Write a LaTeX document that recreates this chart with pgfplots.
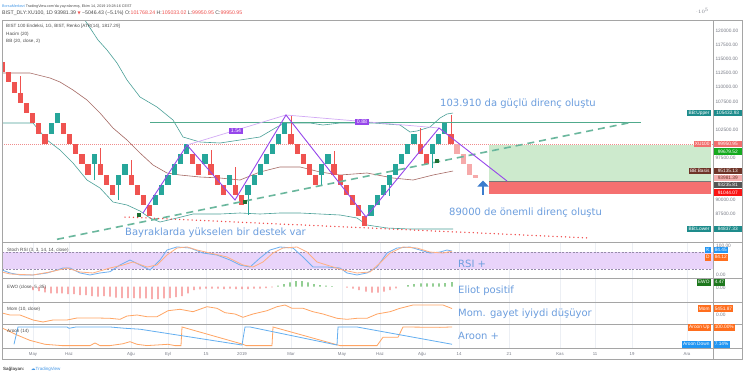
\documentclass[border=0pt]{standalone}
\usepackage{fontspec}
\setmainfont{Liberation Sans}
\newfontfamily\dejavu{DejaVu Sans}
\usepackage{pgfplots}
\usepackage{pgfplotstable}
\pgfplotsset{compat=1.18}
\usepgfplotslibrary{fillbetween}
\usetikzlibrary{arrows.meta}
\newcommand\fs[1]{\fontsize{#1bp}{#1bp}\selectfont}
\definecolor{tvred}{RGB}{239,83,80}
\definecolor{tvgreen}{RGB}{38,166,154}
\definecolor{tvpink}{RGB}{246,170,170}
\definecolor{bbline}{RGB}{75,160,152}
\definecolor{bbfill}{RGB}{222,241,240}
\definecolor{bbbasis}{RGB}{165,105,100}
\definecolor{gridc}{RGB}{236,239,244}
\definecolor{framec}{RGB}{165,165,165}
\definecolor{labgray}{RGB}{120,123,134}
\definecolor{txtgray}{RGB}{75,75,75}
\definecolor{annot}{RGB}{108,158,222}
\definecolor{zig}{RGB}{150,70,235}
\definecolor{ziglight}{RGB}{210,170,245}
\definecolor{resgreen}{RGB}{80,170,140}
\definecolor{dotred}{RGB}{240,70,70}
\definecolor{pricedot}{RGB}{240,140,140}
\definecolor{longgreen}{RGB}{205,234,205}
\definecolor{longred}{RGB}{245,112,112}
\definecolor{arrowblue}{RGB}{60,125,205}
\definecolor{stochfill}{RGB}{233,212,250}
\definecolor{stochdash}{RGB}{150,140,170}
\definecolor{kblue}{RGB}{110,175,240}
\definecolor{dorange}{RGB}{255,175,130}
\definecolor{ewored}{RGB}{245,130,130}
\definecolor{ewogreen}{RGB}{90,180,90}
\definecolor{momorange}{RGB}{255,165,100}
\definecolor{adnblue}{RGB}{100,175,240}
\definecolor{tagteal}{RGB}{30,140,140}
\definecolor{tagxu}{RGB}{242,110,110}
\definecolor{taggreen}{RGB}{20,170,30}
\definecolor{tagbrown}{RGB}{110,52,40}
\definecolor{tagpink}{RGB}{245,175,175}
\definecolor{taggray}{RGB}{85,85,85}
\definecolor{tagred}{RGB}{250,20,20}
\definecolor{tagblue}{RGB}{33,150,243}
\definecolor{tagorange}{RGB}{255,110,30}
\definecolor{tagewo}{RGB}{30,120,30}
\definecolor{tvblue}{RGB}{66,150,230}
\definecolor{flaggreen}{RGB}{30,110,50}

\pgfplotsset{panel/.style={scale only axis, width=711bp, xmin=2, xmax=713,
  axis line style={draw=none},
  xtick={33,69,131,168,206,242,291,342,380,422,459,509,560,595,632,687},
  xticklabels={,,,,,,,,,,,,,,,}, xmajorgrids, major grid style={draw=gridc, line width=0.6bp},
  tick style={draw=none}, anchor=south west}}

% renko bricks: x centre, low, high
\pgfplotstableread{
x lo hi
1.95 112671.98 114489.27
8.1 110854.69 112671.98
14.25 109037.40 110854.69
20.4 107220.11 109037.40
26.55 105402.82 107220.11
32.7 103585.53 105402.82
38.85 101768.24 103585.53
45.0 99950.95 101768.24
63.45 101768.24 103585.53
69.6 99950.95 101768.24
75.75 98133.66 99950.95
81.9 96316.37 98133.66
88.05 94499.08 96316.37
100.35 94499.08 96316.37
106.5 92681.79 94499.08
112.65 90864.50 92681.79
131.1 92681.79 94499.08
137.25 90864.50 92681.79
143.4 89047.21 90864.50
149.55 87229.92 89047.21
192.6 96316.37 98133.66
198.75 94499.08 96316.37
211.05 94499.08 96316.37
217.2 92681.79 94499.08
223.35 90864.50 92681.79
235.65 90864.50 92681.79
241.8 89047.21 90864.50
291.0 99950.95 101768.24
297.15 98133.66 99950.95
303.3 96316.37 98133.66
309.45 94499.08 96316.37
315.6 92681.79 94499.08
334.05 94499.08 96316.37
340.2 92681.79 94499.08
346.35 90864.50 92681.79
352.5 89047.21 90864.50
358.65 87229.92 89047.21
364.8 85412.63 87229.92
420.15 98133.66 99950.95
426.3 96316.37 98133.66
450.9 99950.95 101768.24
}\redB
\pgfplotstableread{
x lo hi
51.15 101768.24 103585.53
57.3 103585.53 105402.82
94.2 96316.37 98133.66
118.8 92681.79 94499.08
124.95 94499.08 96316.37
155.7 89047.21 90864.50
161.85 90864.50 92681.79
168.0 92681.79 94499.08
174.15 94499.08 96316.37
180.3 96316.37 98133.66
186.45 98133.66 99950.95
204.9 96316.37 98133.66
229.5 92681.79 94499.08
247.95 90864.50 92681.79
254.1 92681.79 94499.08
260.25 94499.08 96316.37
266.4 96316.37 98133.66
272.55 98133.66 99950.95
278.7 99950.95 101768.24
284.85 101768.24 103585.53
321.75 94499.08 96316.37
327.9 96316.37 98133.66
370.95 87229.92 89047.21
377.1 89047.21 90864.50
383.25 90864.50 92681.79
389.4 92681.79 94499.08
395.55 94499.08 96316.37
401.7 96316.37 98133.66
407.85 98133.66 99950.95
414.0 99950.95 101768.24
432.45 98133.66 99950.95
438.6 99950.95 101768.24
444.75 101768.24 103585.53
}\greenB
\pgfplotstableread{
x lo hi
457.05 98133.66 99950.95
463.2 96316.37 98133.66
469.35 94499.08 96316.37
475.5 93981.39 94499.08
}\pinkB
\pgfplotstableread{
x lo hi
20.4 109037.40 112008
100.35 96316.37 99222
131.1 94499.08 97091
211.05 96316.37 98867
235.65 92681.79 95848
291.0 101768.24 105082
334.05 96316.37 98689
420.15 99950.95 102774
450.9 101768.24 105033.02
}\redW
\pgfplotstableread{
x lo hi
94.2 93539 96316.37
118.8 89987 92681.79
247.95 87324 90864.50
321.75 92474 94499.08
389.4 90697 92681.79
432.45 95670 98133.66
}\greenW

\tikzset{tagR/.style={anchor=west, font=\fs{4.8}, text=white, inner xsep=1.3bp, inner ysep=0bp, minimum height=6.6bp},
 tagP/.style={tagR, minimum width=28.6bp},
 tagL/.style={anchor=east, font=\fs{4.8}, text=white, inner xsep=1.3bp, inner ysep=0bp, minimum height=6.6bp},
 ann/.style={anchor=base west, font=\dejavu\fs{10}, text=annot, inner sep=0pt},
 ttl/.style={anchor=base west, font=\fs{4.6}, text=txtgray, inner sep=0pt},
 tl/.style={anchor=base, font=\fs{4.3}, text=labgray, inner sep=0pt},
 rl/.style={anchor=west, font=\fs{4.8}, text=labgray, inner sep=0pt}}

\begin{document}
\begin{tikzpicture}[x=1bp,y=1bp]
\fill[white] (0,0) rectangle (745,375);

% ---------------- main price panel
\begin{axis}[panel, at={(2bp,133bp)}, height=222bp,
  ymin=82530, ymax=121953, ytick={85000,87500,90000,92500,95000,97500,100000,102500,105000,107500,110000,112500,115000,117500,120000},
  ymajorgrids, yticklabel pos=right,
  yticklabels={,87500.00,90000.00,,,97500.00,,102500.00,,107500.00,110000.00,112500.00,115000.00,117500.00,120000.00},
  yticklabel style={font=\fs{4.8}, text=labgray, anchor=west, xshift=-1bp}]
\addplot[draw=none, name path=up, forget plot] coordinates {(2,121900) (30,121900) (50,121950) (60,121950) (73,121950) (85,121900) (98,118402) (107,116626) (117,114317) (127,111298) (140,108279) (157,106503) (173,104194) (183,101175) (200,100287) (220,100110) (240,100643) (260,101175) (277,102951) (285,103662) (297,103662) (310,103662) (323,103307) (340,103662) (357,103662) (373,103662) (400,103307) (410,102064) (417,102241) (430,102951) (440,104550) (447,105260) (453,105433)};
\addplot[draw=none, name path=lo, forget plot] coordinates {(2,103662) (33,103662) (47,100643) (60,98867) (73,96558) (87,93539) (100,92118) (113,89632) (127,89100) (140,88034) (150,86791) (160,86080) (177,86791) (193,87501) (207,87501) (220,87501) (240,87679) (260,87501) (280,87679) (300,87679) (320,87501) (340,87324) (357,86791) (367,85548) (387,85015) (410,84837) (430,84837) (453,84837)};
\addplot[fill=bbfill, fill opacity=0.8, draw=none] fill between[of=up and lo];
% long position
\addplot[draw=none, fill=longgreen] coordinates {(489,99679.52) (711,99679.52) (711,93235.81) (489,93235.81)};
\addplot[draw=none, fill=longred] coordinates {(489,93235.81) (711,93235.81) (711,91044.07) (489,91044.07)};
\addplot[taggray!80, line width=0.8bp] coordinates {(489,93235.81) (711,93235.81)};
% last price line
\addplot[pricedot, line width=0.6bp, dash pattern=on 1bp off 1bp] coordinates {(2,99950.95) (713,99950.95)};
% Bollinger
\addplot[bbline, line width=0.6bp] coordinates {(85,121900) (98,118402) (107,116626) (117,114317) (127,111298) (140,108279) (157,106503) (173,104194) (183,101175) (200,100287) (220,100110) (240,100643) (260,101175) (277,102951) (285,103662) (297,103662) (310,103662) (323,103307) (340,103662) (357,103662) (373,103662) (400,103307) (410,102064) (417,102241) (430,102951) (440,104550) (447,105260) (453,105433)};
\addplot[bbline, line width=0.6bp] coordinates {(2,103662) (33,103662) (47,100643) (60,98867) (73,96558) (87,93539) (100,92118) (113,89632) (127,89100) (140,88034) (150,86791) (160,86080) (177,86791) (193,87501) (207,87501) (220,87501) (240,87679) (260,87501) (280,87679) (300,87679) (320,87501) (340,87324) (357,86791) (367,85548) (387,85015) (410,84837) (430,84837) (453,84837)};
\addplot[bbbasis, line width=0.6bp] coordinates {(2,112541) (30,112541) (50,111653) (60,110943) (73,109522) (87,107746) (100,105438) (113,102774) (127,100643) (140,98334) (153,96203) (167,94782) (180,94427) (200,94072) (220,93894) (240,93539) (260,94960) (280,95852) (300,95852) (320,94960) (340,94427) (367,94782) (393,93894) (413,93539) (433,94427) (453,95135)};
% wicks
\addplot[forget plot, draw=none, mark=none, error bars/.cd, y dir=both, y explicit, error mark=none, error bar style={draw=tvred, line width=0.8bp}] table[x=x, y expr={(\thisrow{lo}+\thisrow{hi})/2}, y error expr={(\thisrow{hi}-\thisrow{lo})/2}] {\redW};
\addplot[forget plot, draw=none, mark=none, error bars/.cd, y dir=both, y explicit, error mark=none, error bar style={draw=tvgreen, line width=0.8bp}] table[x=x, y expr={(\thisrow{lo}+\thisrow{hi})/2}, y error expr={(\thisrow{hi}-\thisrow{lo})/2}] {\greenW};
% bricks
\addplot[forget plot, draw=none, mark=none, error bars/.cd, y dir=both, y explicit, error mark=none, error bar style={draw=tvred, line width=5.2bp}] table[x=x, y expr={(\thisrow{lo}+\thisrow{hi})/2}, y error expr={(\thisrow{hi}-\thisrow{lo})/2}] {\redB};
\addplot[forget plot, draw=none, mark=none, error bars/.cd, y dir=both, y explicit, error mark=none, error bar style={draw=tvgreen, line width=5.2bp}] table[x=x, y expr={(\thisrow{lo}+\thisrow{hi})/2}, y error expr={(\thisrow{hi}-\thisrow{lo})/2}] {\greenB};
\addplot[forget plot, draw=none, mark=none, error bars/.cd, y dir=both, y explicit, error mark=none, error bar style={draw=tvpink, line width=5.2bp}] table[x=x, y expr={(\thisrow{lo}+\thisrow{hi})/2}, y error expr={(\thisrow{hi}-\thisrow{lo})/2}] {\pinkB};
% drawings
\addplot[resgreen, line width=1.3bp] coordinates {(150,103800) (641,103800)};
\addplot[resgreen!85, line width=1.6bp, dash pattern=on 7bp off 5bp] coordinates {(57,83008) (633,103839)};
\addplot[dotred, line width=1.5bp, line cap=round, dash pattern=on 0bp off 4.2bp] coordinates {(125,86968) (590,83239)};
\addplot[ziglight, line width=0.7bp] coordinates {(187,99755) (286,105082) (439,102774)};
\addplot[zig, line width=0.9bp] coordinates {(143,87679) (187,99755) (235,89987) (286,105082) (366,86968) (439,102774) (507,93361)};
\addplot[only marks, mark=square*, mark size=1.5bp, mark options={fill=flaggreen, draw=flaggreen}] coordinates {(139,87324) (245,89632) (437,96913)};
\addplot[arrowblue, line width=2.6bp, -{Triangle[width=11bp,length=6bp]}] coordinates {(483,90950) (483,93450)};
\node[fill=zig, text=white, font=\fs{5.2}, inner xsep=1.8bp, inner ysep=1bp] at (axis cs:236,102241) {1.54};
\node[fill=zig, text=white, font=\fs{5.2}, inner xsep=1.8bp, inner ysep=1bp] at (axis cs:362,103839) {0.88};
\end{axis}

% ---------------- Stoch RSI
\begin{axis}[panel, at={(2bp,97bp)}, height=36bp, ymin=-10.7, ymax=116.4, ytick=\empty]
\addplot[draw=none, fill=stochfill] coordinates {(2,20) (713,20) (713,80) (2,80)};
\addplot[stochdash, line width=0.5bp, dash pattern=on 2bp off 1.5bp] coordinates {(2,20) (713,20)};
\addplot[stochdash, line width=0.5bp, dash pattern=on 2bp off 1.5bp] coordinates {(2,80) (713,80)};
\addplot[kblue, line width=0.8bp] coordinates {(2,17.5) (10,7) (20,0) (33,0) (47,7) (57,17.5) (63,24.6) (70,24.6) (80,7) (90,0) (100,7) (110,11.5) (120,35.2) (130,52.8) (140,35.2) (150,17.5) (160,52.8) (167,88.1) (177,99) (190,95.2) (203,77.5) (217,70.5) (230,52.8) (240,35.2) (250,28.1) (260,59.9) (270,88.1) (280,98.7) (293,95.2) (303,63.4) (313,28.1) (327,28.1) (340,24.6) (347,7) (357,0) (367,7) (377,28.1) (387,77.5) (397,95.2) (410,98.7) (420,88.1) (430,77.5) (440,81) (447,88.1) (452,84.45)};
\addplot[dorange, line width=0.8bp] coordinates {(2,10.5) (10,3.4) (33,0) (50,10.5) (67,24.6) (80,10.5) (93,7) (110,24.6) (123,35.2) (133,45.8) (147,28.1) (157,35.2) (167,70.5) (177,95.2) (187,99) (197,88.1) (210,77.5) (227,63.4) (243,35.2) (253,28.1) (263,45.8) (273,77.5) (283,95.2) (297,98.7) (307,81) (317,45.8) (330,31.6) (343,17.5) (357,7) (370,10.5) (380,42.2) (390,77.5) (403,98.7) (417,95.2) (430,81) (443,77.5) (452,84.12)};
\end{axis}

% ---------------- EWO
\begin{axis}[panel, at={(2bp,73bp)}, height=24bp, ymin=-15.3, ymax=8.7, ytick=\empty]
\addplot[ybar, bar width=1.3bp, bar shift=0pt, fill=ewored, draw=none] coordinates {(33,-3.3) (39,-4.3) (45,-5.7) (51,-6.7) (57,-6.7) (62,-6.7) (68,-7.3) (74,-7.3) (80,-8.3) (86,-8.3) (92,-9.3) (98,-10) (104,-9.5) (110,-10) (116,-11) (122,-11.3) (128,-11.3) (134,-11.5) (140,-11.7) (146,-11.7) (152,-12.3) (158,-12.3) (164,-11.7) (170,-11.3) (176,-10.3) (182,-9.3) (188,-6.7) (194,-3.3) (200,-2.7) (206,-2) (212,-2) (218,-2) (224,-2.3) (230,-2) (236,-2.3) (242,-2.3) (248,-2.3) (254,-2) (260,-2) (266,-1.5) (272,-0.7) (347,-1) (353,-2) (359,-3.3) (366,-5) (372,-6) (378,-6) (384,-5) (390,-3.3) (396,-1.7)};
\addplot[ybar, bar width=1.3bp, bar shift=0pt, fill=ewogreen, draw=none] coordinates {(278,1) (284,2.7) (290,4.3) (296,5.7) (302,5.7) (308,4.3) (314,2.7) (320,1.7) (326,1) (332,0.7) (408,1.7) (414,2.7) (421,3.3) (427,3.3) (433,3.3) (439,3.3) (445,3.5) (452,4.47)};
\end{axis}

% ---------------- Momentum
\begin{axis}[panel, at={(2bp,51bp)}, height=22bp, ymin=-10000, ymax=12000, ytick=\empty]
\addplot[momorange, line width=0.8bp] coordinates {(2,1000) (10,-1000) (20,-1000) (33,-6000) (43,-8000) (53,-6000) (67,-6000) (77,-4000) (97,-4000) (110,-4300) (120,-5300) (127,-2000) (137,-1000) (147,-2700) (157,-2700) (168,3300) (180,4700) (193,2300) (207,7300) (217,5700) (225,1300) (235,0) (243,-3300) (253,0) (267,3300) (277,7300) (285,9000) (292,5700) (303,5700) (313,2300) (323,0) (337,-4300) (347,-5300) (357,-4300) (367,-4300) (377,0) (390,2300) (400,5700) (413,9000) (427,9000) (443,9000) (452,5451.87)};
\end{axis}

% ---------------- Aroon
\begin{axis}[panel, at={(2bp,27bp)}, height=24bp, ymin=-12.9, ymax=116, ytick=\empty]
\addplot[momorange, line width=0.8bp] coordinates {(2,95) (17,57) (30,28) (45,7) (62,0) (90,0) (95,14) (100,0) (110,0) (123,10) (130,21) (137,7) (147,0) (168,7) (175,0) (181,0) (182,100) (243,7) (246,0) (272,0) (273,100) (340,0) (377,0) (383,45) (398,45) (403,100) (440,98) (452,100)};
\addplot[adnblue, line width=0.8bp] coordinates {(14,7) (18,100) (67,100) (69,93) (76,100) (110,100) (125,93) (140,88) (242,3) (245,100) (250,100) (337,3) (338,100) (357,100) (452,7.14)};
\end{axis}

% ---------------- frame
\draw[framec, line width=0.9bp] (2,16) rectangle (742,355);
\foreach \yy in {133,97,73,51,27} \draw[framec, line width=0.9bp] (2,\yy) -- (742,\yy);
\draw[framec, line width=0.9bp] (713,16) -- (713,355);

% ---------------- header
\node[anchor=base west, font=\fs{3.7}, text=txtgray, inner sep=0pt] at (2,368) {\textcolor{tvblue}{BorsaMerkezi} TradingView.com'da yayınlanmış, Ekim 14, 2019 19:28:16 CEST};
\node[anchor=base west, font=\fs{5.2}, text=txtgray, inner sep=0pt] at (2,360.5) {BIST\_DLY:XU100, 1D\ 93981.39 {\color{tvred}\dejavu\fs{4}▼} −5046.43 (−5.1\%) O:{\color{tvred}101768.24} H:{\color{tvred}105033.02} L:{\color{tvred}99950.95} C:{\color{tvred}99950.95}};
\node[ttl] at (6,348) {BIST 100 Endeksi, 1G, BIST, Renko [ATR(14), 1817.29]};
\node[ttl] at (6,340) {Hacim (20)};
\node[ttl] at (6,333) {BB (20, close, 2)};
\node[ttl] at (7,123.5) {Stoch RSI (3, 3, 14, 14, close)};
\node[ttl] at (7,87) {EWO (close, 5, 35)};
\node[ttl] at (7,64.5) {Mom (10, close)};
\node[ttl] at (7,42.5) {Aroon (14)};

% ---------------- annotations
\node[ann] at (440,268.3) {103.910 da güçlü direnç oluştu};
\node[ann] at (449,159.5) {89000 de önemli direnç oluştu};
\node[ann] at (125,139.3) {Bayraklarda yükselen bir destek var};
\node[ann] at (458,107.5) {RSI +};
\node[ann] at (458,81.5) {Eliot positif};
\node[ann] at (458,59) {Mom. gayet iyiydi düşüyor};
\node[ann] at (458,35.5) {Aroon +};

% ---------------- time labels
\foreach \xx/\lab in {33/May,69/Haz,131/Ağu,168/Eyl,206/15,242/2019,291/Mar,342/May,380/Haz,422/Ağu,459/14,509/21,560/Kas,595/11,632/19,687/Ara}
  \node[tl] at (\xx,19.5) {\lab};

% ---------------- sub panel scale labels
\node[rl] at (716,129) {100.00};
\node[rl] at (716,100.5) {0.00};
\node[rl] at (716,86.8) {0.00};
\node[rl] at (716,60.5) {0.00};

% ---------------- value tags
\node[tagL, fill=tagteal] at (711,262) {BB:Upper};
\node[tagP, fill=tagteal] at (713.3,262) {105432.93};
\node[tagL, fill=tagxu] at (711,231) {XU100};
\node[tagP, fill=tagxu] at (713.3,231) {99950.95};
\node[tagP, fill=taggreen] at (713.3,223.5) {99679.52};
\node[tagL, fill=tagbrown] at (711,204) {BB:Basis};
\node[tagP, fill=tagbrown] at (713.3,204) {95135.13};
\node[tagP, fill=tagpink, text=tagbrown] at (713.3,197) {93981.39};
\node[tagP, fill=taggray] at (713.3,190) {93235.81};
\node[tagP, fill=tagred] at (713.3,182.5) {91044.07};
\node[tagL, fill=tagteal] at (711,146) {BB:Lower};
\node[tagP, fill=tagteal] at (713.3,146) {84837.33};
\node[tagL, fill=tagblue] at (711,125) {K};
\node[tagR, fill=tagblue] at (713.3,125) {84.45};
\node[tagL, fill=tagorange] at (711,117.7) {D};
\node[tagR, fill=tagorange] at (713.3,117.7) {84.12};
\node[tagL, fill=tagewo] at (711,92.7) {EWO};
\node[tagR, fill=tagewo] at (713.3,92.7) {4.47};
\node[tagL, fill=tagorange] at (711,66.3) {Mom};
\node[tagR, fill=tagorange] at (713.3,66.3) {5451.87};
\node[tagL, fill=tagorange] at (711,47.7) {Aroon Up};
\node[tagR, fill=tagorange] at (713.3,47.7) {100.00\%};
\node[tagL, fill=tagblue] at (711,30.7) {Aroon Down};
\node[tagR, fill=tagblue] at (713.3,30.7) {7.14\%};

% ---------------- footer
\node[anchor=base west, font=\fs{4.5}\bfseries, text=txtgray, inner sep=0pt] at (3,5) {Sağlayan:};
\node[anchor=base west, font=\fs{4.5}, text=tvblue, inner sep=0pt] at (31,5) {{\dejavu ☁}TradingView};
\end{tikzpicture}
\end{document}
